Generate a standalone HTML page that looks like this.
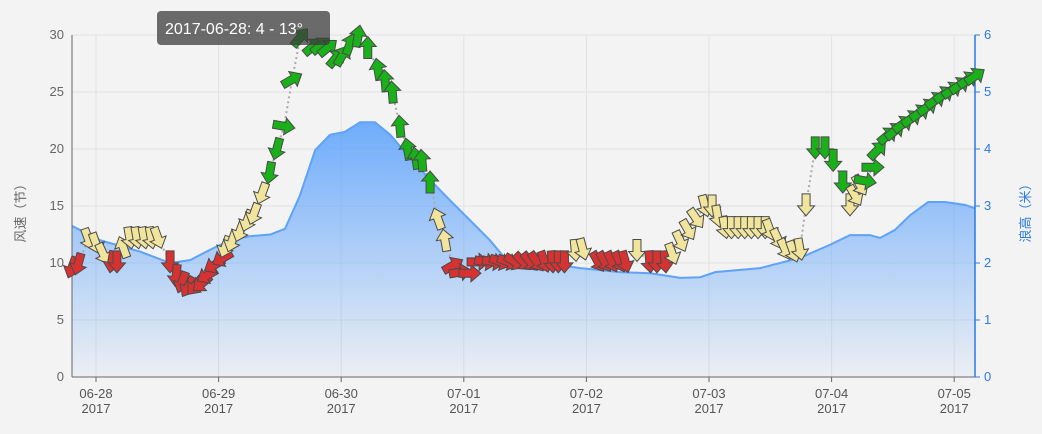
<!DOCTYPE html>
<html><head><meta charset="utf-8"><style>
body{margin:0;background:#f3f3f3;}
svg{display:block;font-family:"Liberation Sans","Noto Sans CJK SC",sans-serif;}
</style></head><body>
<svg id="c" width="1042" height="434">
<defs><linearGradient id="g" x1="0" y1="0" x2="0" y2="1">
<stop offset="0" stop-color="rgb(88,160,253)" stop-opacity="0.85"/>
<stop offset="1" stop-color="rgb(88,160,253)" stop-opacity="0.05"/></linearGradient></defs>
</svg>
<script>
const windHours=[-4.7,-3.5,-1.5,0,1.4,3.1,4.1,5.3,6.6,8,9.4,10.8,12.1,14.5,15.7,16.8,18,19.4,20.7,21.7,23.1,24.7,25.3,26.6,28.2,29.6,30.9,32.5,34,35.4,36.8,38.4,40,42.5,44,45.4,47,48.2,49.7,51.3,53.2,55.2,56.6,58,59.5,61,62.6,63.8,65.4,66.9,68.3,69.9,71.3,73.2,74.8,76.3,77.8,79.2,80.7,82,83.6,85,86.3,87.8,89.3,90.5,91.7,93.8,95.3,98.3,99.6,101,102.5,103.6,105.9,108.4,109.8,111.4,112.8,114.4,115.9,117.5,119.2,120.6,121.7,123.1,124.4,125.7,127,128.3,129.6,131,131.9,133.5,134.9,136.5,137.8,139,140.8,142.7,144.3,146.2,147.6,148.6,149.6,150.6,152.1,153,155,156.4,158,159.7,161.3,162.8,164.4,166,167.6,169.1,170.7,172.1];
const windSpeed=[9.6,9.9,12.1,11.7,10.8,10.1,10.1,11.4,12.2,12.2,12.2,12.2,12.2,10.1,8.9,8.3,7.9,8,8.2,8.9,9.8,10.4,11.4,11.9,12.8,13.7,14.3,16.1,17.9,20,22,26.1,29.8,29,29.1,28.9,28,28.2,29.2,29.9,28.9,27,26,25,22,20,19.2,19,17.1,13.9,12,9.8,9.2,9.1,10.1,10.1,10.1,10.1,10.1,10.1,10.1,10.1,10.1,10.1,10.1,10.1,10.1,11.1,11.2,10.1,10.1,10.1,10.1,10.1,11.1,10.1,10.1,10.1,10.8,11.9,12.9,13.9,15,15,14.1,13.1,13.1,13.1,13.1,13.1,13.1,13.1,12.9,12.1,11.2,11,11.2,15.1,20.1,20.1,19,17.1,15.1,15.9,16.8,17.2,18.4,19.9,21.2,21.6,22.2,22.7,23.2,23.7,24.3,24.8,25.2,25.6,26.1,26.4];
const windDir=[20,15,-20,-20,-25,10,0,160,-10,-10,-10,-10,-20,0,5,20,30,40,50,60,60,60,20,20,20,20,20,20,10,15,-80,-120,-140,-130,-130,-130,-140,-150,-160,-170,180,170,175,175,175,170,170,175,180,160,170,-120,-100,-90,-90,-80,-80,-70,-70,-60,-45,-40,-35,-20,-5,0,0,-5,-15,-30,-30,-25,-25,-15,0,-5,0,-5,-20,-25,-30,-35,-15,0,-10,-10,0,0,0,0,0,0,-20,-25,-25,-20,-10,0,0,0,0,0,0,-30,-30,-80,-90,-135,-130,-130,-125,-125,-125,-125,-125,-125,-125,-125,-125,-125];
const waveHours=[-4.7,0.8,8.6,14.5,18.4,22.3,26.2,30.1,34.1,37,39.9,42.9,45.8,48.7,51.7,54.6,57.6,61.5,65.4,69.3,73.2,77.1,80.1,83,90.8,94.8,102.6,108.5,114.4,118.3,121.2,126.1,130,137.8,143.7,147.6,151.5,153.5,156.4,159.4,162.9,166.2,170.1,172.1];
const waveHeight=[2.65,2.4,2.2,2.0,2.05,2.23,2.4,2.47,2.5,2.6,3.18,3.98,4.25,4.3,4.47,4.47,4.25,3.84,3.46,3.1,2.75,2.4,2.08,1.95,1.96,1.91,1.84,1.82,1.74,1.75,1.84,1.88,1.91,2.09,2.32,2.49,2.49,2.44,2.58,2.84,3.07,3.07,3.02,2.96];
const leftTicks=[0,5,10,15,20,25,30];
const rightTicks=[0,1,2,3,4,5,6];
const dayLabels=["06-28","06-29","06-30","07-01","07-02","07-03","07-04","07-05"];

const NS="http://www.w3.org/2000/svg",svg=document.getElementById('c');
const X0=72,X1=975,Y0=377,Y1=35;
const xs=h=>96+h*122.6/24;
const yl=v=>Y0-(v/30)*(Y0-Y1);
const yr=v=>Y0-(v/6)*(Y0-Y1);
function mk(t,a,p){const e=document.createElementNS(NS,t);for(const k in a)e.setAttribute(k,a[k]);(p||svg).appendChild(e);return e;}

leftTicks.forEach(v=>{const l=mk('line',{x1:X0,x2:X1,y1:yl(v),y2:yl(v),stroke:'#e2e2e2','stroke-width':1});


const t=mk('text',{x:X0-8,y:yl(v)+4,'text-anchor':'end','font-size':13,fill:'#666'});t.textContent=v;

});
dayLabels.forEach((d,i)=>{const x=xs(i*24);const l=mk('line',{x1:x,x2:x,y1:Y1,y2:Y0,stroke:'#e2e2e2'});


mk('line',{x1:x,x2:x,y1:Y0,y2:Y0+5,stroke:'#666'});
const t=mk('text',{x:x,y:398,'text-anchor':'middle','font-size':13,fill:'#555'});t.textContent=d;


const t2=mk('text',{x:x,y:413,'text-anchor':'middle','font-size':13,fill:'#555'});t2.textContent='2017';

});

let pts=waveHours.map((h,i)=>[Math.max(X0,xs(h)),yr(waveHeight[i])]);
let d='M'+pts.map(p=>p.join(',')).join('L');
const area=mk('path',{d:d+`L${pts[pts.length-1][0]},${Y0}L${pts[0][0]},${Y0}Z`,fill:'url(#g)'});


const wl=mk('path',{d:d,fill:'none',stroke:'#5ea2f9','stroke-width':2});



const la=mk('line',{x1:X0,x2:X0,y1:Y1,y2:Y0,stroke:'#666'});


const ba=mk('line',{x1:X0,x2:X1,y1:Y0,y2:Y0,stroke:'#666'});


const ra=mk('line',{x1:X1,x2:X1,y1:Y1,y2:Y0,stroke:'#2a7be4','stroke-width':1.5});


rightTicks.forEach(v=>{mk('line',{x1:X1,x2:X1+5,y1:yr(v),y2:yr(v),stroke:'#2a7be4'});
const t=mk('text',{x:X1+9,y:yr(v)+4,'font-size':13,fill:'#2a7be4'});t.textContent=v;

});
const lt=mk('text',{transform:'translate(25,210) rotate(-90)','text-anchor':'middle','font-size':13,fill:'#666'});lt.textContent='风速（节）';


const rt=mk('text',{transform:'translate(1030,210) rotate(-90)','text-anchor':'middle','font-size':13,fill:'#2a7be4'});rt.textContent='浪高（米）';



const wpts=windHours.map((h,i)=>[xs(h),yl(windSpeed[i])]);
const dl=mk('path',{d:'M'+wpts.map(p=>p.join(',')).join('L'),fill:'none',stroke:'#aaa','stroke-width':2,'stroke-dasharray':'2,3'});



const shape='M-4,-11L4,-11L4,1L8.5,1L0,11L-8.5,1L-4,1Z';
wpts.forEach((p,i)=>{const s=windSpeed[i];const c=s<10.5?'#d63232':(s<17?'#f1e59d':'#19b019');
if(p[0]<X0-2)return;
const a=mk('path',{d:shape,fill:c,stroke:'#4a4a4a','stroke-width':1,transform:`translate(${p[0]},${p[1]}) rotate(${windDir[i]})`});

});

const tg=mk('g',{});


mk('rect',{x:157,y:11,width:173,height:34,rx:4,fill:'rgba(60,60,60,0.75)'},tg);
const tt=mk('text',{x:165,y:34,'font-size':16,fill:'#fff'},tg);tt.textContent='2017-06-28: 4 - 13°';
</script>
</body></html>
